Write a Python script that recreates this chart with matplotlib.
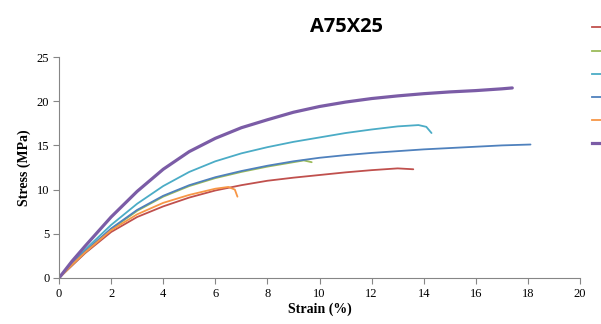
import matplotlib
matplotlib.use("Agg")
import matplotlib.pyplot as plt
from matplotlib.lines import Line2D

# Data (strain %, stress MPa)
red_x = [0, 0.5, 1, 2, 3, 4, 5, 6, 7, 8, 9, 10, 11, 12, 13, 13.6]
red_y = [0, 1.4, 2.8, 5.2, 6.9, 8.1, 9.1, 9.9, 10.5, 11.0, 11.35, 11.65, 11.95, 12.2, 12.4, 12.3]

green_x = [0, 0.5, 1, 2, 3, 4, 5, 6, 7, 8, 9, 9.4, 9.7]
green_y = [0, 1.5, 2.9, 5.5, 7.6, 9.2, 10.4, 11.3, 12.0, 12.6, 13.1, 13.3, 13.1]

teal_x = [0, 0.5, 1, 2, 3, 4, 5, 6, 7, 8, 9, 10, 11, 12, 13, 13.8, 14.1, 14.3]
teal_y = [0, 1.7, 3.2, 6.0, 8.4, 10.4, 12.0, 13.2, 14.1, 14.8, 15.4, 15.9, 16.4, 16.8, 17.15, 17.3, 17.1, 16.4]

blue_x = [0, 0.5, 1, 2, 3, 4, 5, 6, 7, 8, 9, 10, 11, 12, 13, 14, 15, 16, 17, 18.1]
blue_y = [0, 1.6, 3.0, 5.6, 7.7, 9.3, 10.5, 11.4, 12.1, 12.7, 13.2, 13.6, 13.9, 14.15, 14.35, 14.55, 14.7, 14.85, 15.0, 15.1]

orange_x = [0, 0.5, 1, 2, 3, 4, 5, 6, 6.5, 6.75, 6.85]
orange_y = [0, 1.5, 2.9, 5.4, 7.2, 8.5, 9.4, 10.1, 10.3, 10.0, 9.2]

purple_x = [0, 0.5, 1, 2, 3, 4, 5, 6, 7, 8, 9, 10, 11, 12, 13, 14, 15, 16, 17, 17.4]
purple_y = [0, 1.9, 3.6, 6.9, 9.8, 12.3, 14.3, 15.8, 17.0, 17.9, 18.75, 19.4, 19.9, 20.3, 20.6, 20.85, 21.05, 21.2, 21.4, 21.5]

x_ticks = [0, 2, 4, 6, 8, 10, 12, 14, 16, 18, 20]
y_ticks = [0, 5, 10, 15, 20, 25]

series = [
    (red_x, red_y, "#C0504D", 1.3),
    (green_x, green_y, "#9BBB59", 1.3),
    (teal_x, teal_y, "#4BACC6", 1.3),
    (blue_x, blue_y, "#4F81BD", 1.3),
    (orange_x, orange_y, "#F79646", 1.3),
    (purple_x, purple_y, "#7B5CA6", 2.3),
]

fig = plt.figure(figsize=(6.01, 3.24), dpi=100)
ax = fig.add_axes([59/601, 46/324, (580-59)/601, (278-57)/324])

for x, y, c, lw in series:
    ax.plot(x, y, color=c, lw=lw, solid_joinstyle="round", solid_capstyle="round")

ax.set_xlim(0, 20)
ax.set_ylim(0, 25)
ax.set_xticks(x_ticks)
ax.set_yticks(y_ticks)
serif = "Liberation Serif"
ax.set_xticklabels([str(t) for t in x_ticks], fontfamily=serif, fontsize=9)
ax.set_yticklabels([str(t) for t in y_ticks], fontfamily=serif, fontsize=9)
for s in ["top", "right"]:
    ax.spines[s].set_visible(False)
for s in ["left", "bottom"]:
    ax.spines[s].set_color("#868686")
    ax.spines[s].set_linewidth(0.8)
ax.tick_params(direction="out", length=4, width=0.8, color="#868686", pad=3)
ax.set_xlabel("Strain (%)", fontfamily=serif, fontweight="bold", fontsize=10, labelpad=2)
ax.set_ylabel("Stress (MPa)", fontfamily=serif, fontweight="bold", fontsize=10, labelpad=4)

fig.text(346/601, 1 - 27/324, "A75X25", ha="center", va="center",
         fontfamily="Open Sans", fontweight="bold", fontsize=14.5)

# legend markers (labels cut off at the right edge)
leg_y = [27, 51, 74, 97, 120, 143]
for (x, y, c, lw), py in zip(series, leg_y):
    fig.add_artist(Line2D([592/601, 1.0], [1 - py/324, 1 - py/324],
                          color=c, lw=lw, transform=fig.transFigure))

fig.savefig("out.png", dpi=100)
